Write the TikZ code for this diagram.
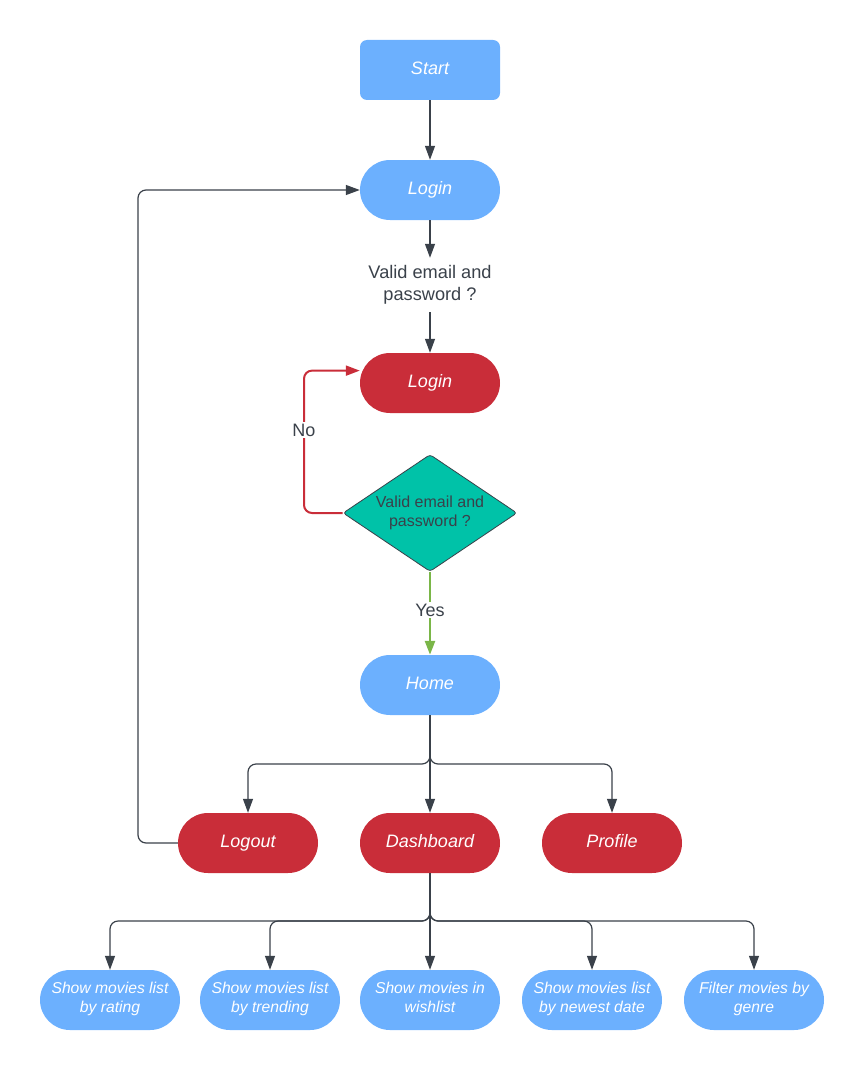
\documentclass[tikz,border=0pt]{standalone}
\usepackage{fontspec}
\setmainfont{Liberation Sans}
\usetikzlibrary{arrows.meta,shapes.geometric}

\definecolor{skyblue}{HTML}{6CB0FE}
\definecolor{flowred}{HTML}{C92D39}
\definecolor{teal}{HTML}{00C2A8}
\definecolor{leaf}{HTML}{7AB648}
\definecolor{ink}{HTML}{3A414A}

\tikzset{
  box/.style={minimum width=140pt, minimum height=60pt, inner sep=0pt,
    align=center, text=white, font=\fontsize{18}{21}\selectfont\itshape},
  oneline/.style={text height=13pt, text depth=4pt},
  startbox/.style={box, oneline, fill=skyblue, rounded corners=7pt},
  pill/.style={box, oneline, fill=skyblue, rounded corners=30pt},
  redpill/.style={box, oneline, fill=flowred, rounded corners=30pt},
  leafpill/.style={box, fill=skyblue, rounded corners=30pt,
    font=\fontsize{15.7}{19}\selectfont\itshape, execute at end node=\strut},
  decision/.style={diamond, shape aspect=1.5, fill=teal, draw=ink, line width=0.8pt,
    rounded corners=3pt, minimum width=174pt, minimum height=117pt, inner sep=0pt,
    align=center, text=ink, font=\fontsize{16}{19}\selectfont},
  question/.style={align=center, text=ink, font=\fontsize{18.2}{22}\selectfont,
    minimum height=54pt, inner sep=2pt},
  lbl/.style={fill=white, text=ink, font=\fontsize{18}{21}\selectfont, inner sep=2pt},
  conn/.style={draw=ink, line width=1.2pt, rounded corners=8pt,
    -{Triangle[length=14pt,width=10pt]}},
  noedge/.style={conn, draw=flowred, line width=2pt},
  yesedge/.style={conn, draw=leaf, line width=2.6pt},
}

\begin{document}
\begin{tikzpicture}[x=1pt,y=1pt]
\useasboundingbox (0,0) rectangle (864,-1070);

% main column
\node[startbox] (start)  at (430,-70)  {Start};
\node[pill]     (login1) at (430,-190) {Login};
\node[question] (q1)     at (430,-285) {Valid email and\\password ?};
\node[redpill]  (login2) at (430,-383) {Login};
\node[decision] (check)  at (430,-513) {Valid email and\\password ?};
\node[pill]     (home)   at (430,-685) {Home};

% second level
\node[redpill] (logout) at (248,-843) {Logout};
\node[redpill] (dash)   at (430,-843) {Dashboard};
\node[redpill] (prof)   at (612,-843) {Profile};

% dashboard views
\node[leafpill] (rating)   at (110,-1000) {Show movies list\\by rating};
\node[leafpill] (trend)    at (270,-1000) {Show movies list\\by trending};
\node[leafpill] (wish)     at (430,-1000) {Show movies in\\wishlist};
\node[leafpill] (newest)   at (592,-1000) {Show movies list\\by newest date};
\node[leafpill] (genre)    at (754,-1000) {Filter movies by\\genre};

% routing points
\coordinate (nobend)  at (304,-513);
\coordinate (outbend) at (138,-843);
\coordinate (hsplit)  at (430,-764);
\coordinate (dsplit)  at (430,-921);

% connectors
\draw[conn] (start) -- (login1);
\draw[conn] (login1) -- (q1);
\draw[conn] (q1) -- (login2);
\draw[noedge] (check.west) -- (nobend) |- (login2.170);
\node[lbl] (nolbl) at (304,-430) {No};
\draw[yesedge] (check.south) -- (home.north);
\node[lbl] (yeslbl) at (430,-610) {Yes};

\draw[conn] (home.south) -- (hsplit) -| (logout.north);
\draw[conn] (home.south) -- (dash.north);
\draw[conn] (home.south) -- (hsplit) -| (prof.north);
\draw[conn] (logout.west) -- (outbend) |- (login1.west);

\draw[conn] (dash.south) -- (dsplit) -| (rating.north);
\draw[conn] (dash.south) -- (dsplit) -| (trend.north);
\draw[conn] (dash.south) -- (wish.north);
\draw[conn] (dash.south) -- (dsplit) -| (newest.north);
\draw[conn] (dash.south) -- (dsplit) -| (genre.north);
\end{tikzpicture}
\end{document}
